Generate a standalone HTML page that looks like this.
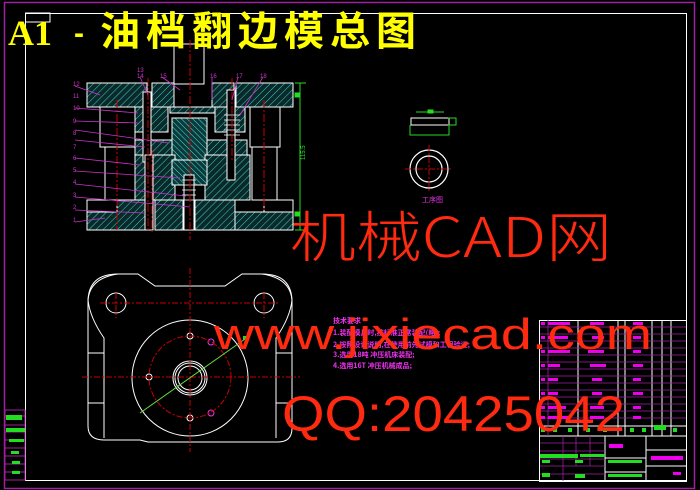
<!DOCTYPE html>
<html><head><meta charset="utf-8"><style>
html,body{margin:0;padding:0;background:#000;}
svg{display:block}
</style></head><body>
<svg width="700" height="490" viewBox="0 0 700 490" xmlns="http://www.w3.org/2000/svg">
<defs>
<pattern id="h" width="5" height="5" patternUnits="userSpaceOnUse" patternTransform="rotate(45)">
<rect width="5" height="5" fill="#0a2a2a"/><line x1="0" y1="0" x2="0" y2="5" stroke="#4cc" stroke-width="1"/>
</pattern>
<pattern id="h2" width="4" height="4" patternUnits="userSpaceOnUse" patternTransform="rotate(-45)">
<rect width="4" height="4" fill="#0a3a3a"/><line x1="0" y1="0" x2="0" y2="4" stroke="#5dd" stroke-width="1"/>
</pattern>
</defs>
<rect width="700" height="490" fill="#000"/>
<rect x="4.5" y="2.5" width="690" height="486" fill="none" stroke="#a020a0" stroke-width="1.5"/>
<rect x="25.5" y="13.5" width="661" height="467" fill="none" stroke="#fff" stroke-width="1"/>
<path d="M25 13 H50 V22 H25" fill="none" stroke="#fff"/>
<g stroke="#a020a0" fill="none"><rect x="5" y="410" width="20" height="70"/>
<line x1="5" y1="416" x2="25" y2="416"/><line x1="5" y1="425" x2="25" y2="425"/><line x1="5" y1="432" x2="25" y2="432"/><line x1="5" y1="440" x2="25" y2="440"/><line x1="5" y1="448" x2="25" y2="448"/><line x1="5" y1="456" x2="25" y2="456"/><line x1="5" y1="464" x2="25" y2="464"/><line x1="5" y1="472" x2="25" y2="472"/></g>
<g fill="#2d2"><rect x="6" y="415" width="16" height="5"/><rect x="6" y="428" width="19" height="4"/><rect x="9" y="439" width="15" height="3"/><rect x="11" y="451" width="8" height="3"/><rect x="12" y="461" width="8" height="3"/><rect x="12" y="471" width="8" height="3"/></g>

<!-- punch shank -->
<rect x="174" y="44" width="30" height="40" fill="none" stroke="#fff"/>
<!-- Title -->
<text x="8" y="45" font-family="Liberation Serif, serif" font-size="36" font-weight="bold" fill="#ff0">A1</text>
<text x="74" y="43" font-family="Liberation Sans, sans-serif" font-size="30" font-weight="bold" fill="#ff0">-</text>
<text x="100" y="45" font-family="'Noto Sans CJK SC', sans-serif" font-size="40" font-weight="bold" fill="#ff0" letter-spacing="6">油档翻边模总图</text>

<!-- section view -->
<g stroke="#fff" stroke-width="1">
<rect x="87" y="83" width="60" height="24" fill="url(#h)"/>
<rect x="152" y="83" width="22" height="24" fill="url(#h)"/>
<rect x="212" y="83" width="22" height="24" fill="url(#h)"/>
<rect x="236" y="83" width="57" height="24" fill="url(#h)"/>
<rect x="170" y="107" width="48" height="6" fill="url(#h)"/>
<rect x="135" y="107" width="33" height="25" fill="url(#h)"/>
<rect x="215" y="107" width="30" height="25" fill="url(#h)"/>
<rect x="172" y="118" width="35" height="42" fill="url(#h2)"/>
<rect x="135" y="140" width="37" height="15" fill="url(#h)"/>
<rect x="207" y="140" width="40" height="15" fill="url(#h)"/>
<rect x="135" y="155" width="40" height="45" fill="url(#h)"/>
<rect x="205" y="155" width="45" height="45" fill="url(#h)"/>
<rect x="172" y="160" width="35" height="25" fill="url(#h2)"/>
<rect x="87" y="200" width="58" height="30" fill="url(#h)"/>
<rect x="155" y="200" width="28" height="30" fill="url(#h)"/>
<rect x="195" y="200" width="40" height="30" fill="url(#h)"/>
<rect x="235" y="212" width="58" height="18" fill="url(#h)"/>
<rect x="100" y="107" width="35" height="40" fill="none"/>
<rect x="105" y="147" width="30" height="53" fill="none"/>
<rect x="250" y="107" width="30" height="40" fill="none"/>
<rect x="252" y="147" width="25" height="53" fill="none"/>
<rect x="87" y="200" width="30" height="12" fill="#000"/>
<rect x="264" y="200" width="29" height="12" fill="#000"/>
<rect x="143" y="92" width="8" height="70" fill="#000"/>
<rect x="145" y="155" width="8" height="75" fill="#000"/>
<rect x="227" y="90" width="8" height="90" fill="#000"/>
<rect x="184" y="175" width="10" height="55" fill="#000"/>
</g>
<g stroke="#fff" stroke-width="0.8" fill="none">
<path d="M224 115 h16 M224 120 h16 M224 125 h16 M224 130 h16 M224 135 h16"/>
<path d="M182 180 h14 M182 185 h14 M182 190 h14 M182 195 h14 M182 200 h14"/>
</g>
<g stroke="#c00" stroke-width="1" stroke-dasharray="8 2 2 2">
<line x1="190" y1="40" x2="190" y2="240"/><line x1="117" y1="100" x2="117" y2="230"/><line x1="264" y1="100" x2="264" y2="210"/><line x1="148" y1="78" x2="148" y2="232"/><line x1="232" y1="78" x2="232" y2="160"/><line x1="152" y1="150" x2="152" y2="232"/>
</g>
<g stroke="#2d2" fill="none"><line x1="300" y1="83" x2="300" y2="230"/><line x1="295" y1="83" x2="306" y2="83"/><line x1="295" y1="230" x2="306" y2="230"/><rect x="295" y="93" width="4" height="4" fill="#2d2"/><rect x="295" y="212" width="4" height="4" fill="#2d2"/></g>
<text x="305" y="160" font-family="Liberation Sans" font-size="6" fill="#2d2" transform="rotate(-90 305 160)">115.5</text>
<g stroke="#c3c" stroke-width="0.8" fill="none">
<path d="M75 86 L100 95 M75 108 L138 113 M75 121 L138 123 M75 130 L168 143 M75 140 L145 147 M75 158 L140 165 M75 171 L180 178 M75 184 L186 196 M75 197 L190 207 M75 210 L145 213 M75 222 L105 218"/>
<path d="M140 77 L148 95 M162 77 L180 90 M212 77 L212 100 M238 77 L232 100 M263 77 L240 115"/>
</g>
<g font-family="Liberation Sans" font-size="6" fill="#c3c">
<text x="73" y="86">12</text><text x="73" y="98">11</text><text x="73" y="110">10</text><text x="73" y="123">9</text><text x="73" y="135">8</text><text x="73" y="149">7</text><text x="73" y="160">6</text><text x="73" y="172">5</text><text x="73" y="184">4</text><text x="73" y="197">3</text><text x="73" y="209">2</text><text x="73" y="222">1</text>
<text x="137" y="72">13</text><text x="137" y="78">14</text><text x="160" y="78">15</text><text x="210" y="78">16</text><text x="236" y="78">17</text><text x="260" y="78">18</text>
</g>

<!-- workpiece -->
<g stroke="#fff" fill="none"><rect x="411" y="118" width="38" height="7"/></g>
<g stroke="#2d2" fill="none"><path d="M416 112 H444 M410 125 V135 H449 V125 M448 118 H456 V125 H448"/><rect x="428" y="110" width="5" height="3" fill="#2d2"/></g>
<g stroke="#fff" fill="none" stroke-width="1.2"><circle cx="429" cy="169" r="19"/><circle cx="429" cy="169" r="13"/></g>
<g stroke="#c00" stroke-dasharray="6 2 2 2"><line x1="405" y1="169" x2="453" y2="169"/><line x1="429" y1="145" x2="429" y2="193"/></g>
<text x="422" y="202" font-family="'Noto Sans CJK SC',sans-serif" font-size="7" fill="#e3e">工序图</text>

<!-- plan view -->
<g stroke="#fff" fill="none" stroke-width="1">
<path d="M118 274 H138 L155 286 H225 L242 274 H262 Q292 274 292 302 V428 Q292 442 278 442 H148 L140 440 H104 Q88 440 88 426 V302 Q88 274 118 274 Z"/>
<path d="M262 274 Q290 278 292 300 Q290 318 276 338 V438"/>
<path d="M118 274 Q90 278 88 300 Q90 318 104 338 V438"/>
<rect x="88" y="353" width="16" height="50"/><rect x="276" y="353" width="16" height="50"/>
<circle cx="190" cy="378" r="58"/>
<circle cx="190" cy="378" r="17"/><circle cx="190" cy="378" r="15"/><circle cx="190" cy="378" r="12"/>
<circle cx="116" cy="303" r="10"/><circle cx="264" cy="303" r="10"/>
<circle cx="190" cy="336" r="3"/><circle cx="190" cy="418" r="3"/><circle cx="149" cy="377" r="3"/>
</g>
<g stroke="#e3e" fill="none"><circle cx="211" cy="342" r="3"/><circle cx="211" cy="413" r="3"/></g>
<g stroke="#c00" stroke-dasharray="6 2 2 2" fill="none">
<line x1="82" y1="377" x2="300" y2="377"/><line x1="190" y1="268" x2="190" y2="452"/>
<line x1="100" y1="303" x2="280" y2="303"/><line x1="116" y1="293" x2="116" y2="318"/><line x1="264" y1="293" x2="264" y2="318"/>
<circle cx="190" cy="377" r="41"/>
</g>
<line x1="140" y1="413" x2="245" y2="339" stroke="#6d4"/>
<rect x="243" y="336" width="4" height="4" fill="#2d2"/>

<g font-family="'Noto Sans CJK SC',sans-serif" font-size="7" fill="#e3e" font-weight="bold">
<text x="333" y="323">技术要求</text>
<text x="333" y="335">1.装配模具时,按标准正常装配(略);</text>
<text x="333" y="347">2.按照设计说明,在使用前先试模和工程验证;</text>
<text x="333" y="357">3.选用18吨 冲压机床装配;</text>
<text x="333" y="368">4.选用16T 冲压机械成品;</text>
</g>

<g stroke="#fff" fill="none" stroke-width="1">
<rect x="539.5" y="320.5" width="147" height="161"/>
<line x1="539" y1="436" x2="687" y2="436"/>
<line x1="578" y1="320" x2="578" y2="436"/><line x1="618" y1="320" x2="618" y2="436"/><line x1="625" y1="320" x2="625" y2="436"/>
<line x1="652" y1="320" x2="652" y2="436"/><line x1="662" y1="320" x2="662" y2="436"/><line x1="671" y1="320" x2="671" y2="436"/>
<line x1="605" y1="436" x2="605" y2="481"/><line x1="646" y1="436" x2="646" y2="481"/>
<line x1="646" y1="450" x2="687" y2="450"/><line x1="646" y1="466" x2="687" y2="466"/>
<line x1="605" y1="458" x2="646" y2="458"/><line x1="605" y1="472" x2="646" y2="472"/>
<line x1="539" y1="426" x2="687" y2="426"/>
</g>
<g stroke="#a020a0" stroke-width="0.8">
<path d="M540 327H686M540 334H686M540 341H686M540 348H686M540 355H686M540 362H686M540 369H686M540 376H686M540 383H686M540 390H686M540 397H686M540 404H686M540 411H686M540 418H686"/>
<path d="M540 443H605M540 451H605M540 459H605M540 466H605M540 474H605M548 320V436M563 436V481M576 436V466M590 436V466"/>
</g>
<g fill="#e0e">
<rect x="541" y="322" width="4" height="3"/><rect x="548" y="322" width="22" height="3"/><rect x="590" y="322" width="14" height="3"/><rect x="633" y="322" width="10" height="3"/>
<rect x="541" y="336" width="4" height="3"/><rect x="548" y="336" width="20" height="3"/><rect x="592" y="336" width="12" height="3"/><rect x="633" y="336" width="8" height="3"/>
<rect x="541" y="350" width="4" height="3"/><rect x="548" y="350" width="22" height="3"/><rect x="588" y="350" width="16" height="3"/><rect x="633" y="350" width="8" height="3"/>
<rect x="541" y="364" width="4" height="3"/><rect x="548" y="364" width="12" height="3"/><rect x="590" y="364" width="16" height="3"/><rect x="633" y="364" width="10" height="3"/>
<rect x="541" y="378" width="4" height="3"/><rect x="548" y="378" width="10" height="3"/><rect x="592" y="378" width="10" height="3"/><rect x="633" y="378" width="8" height="3"/>
<rect x="541" y="392" width="4" height="3"/><rect x="548" y="392" width="10" height="3"/><rect x="592" y="392" width="10" height="3"/><rect x="633" y="392" width="10" height="3"/>
<rect x="541" y="406" width="4" height="3"/><rect x="548" y="406" width="18" height="3"/><rect x="590" y="406" width="14" height="3"/><rect x="633" y="406" width="8" height="3"/>
<rect x="541" y="416" width="4" height="3"/><rect x="548" y="416" width="22" height="3"/><rect x="590" y="416" width="14" height="3"/><rect x="633" y="416" width="8" height="3"/>
<rect x="609" y="444" width="14" height="4"/><rect x="651" y="456" width="32" height="4"/><rect x="673" y="472" width="8" height="3"/>
</g>
<g fill="#2d2">
<rect x="541" y="428" width="4" height="4"/><rect x="553" y="428" width="4" height="4"/><rect x="568" y="428" width="4" height="4"/><rect x="586" y="428" width="4" height="4"/><rect x="603" y="428" width="4" height="4"/><rect x="630" y="428" width="4" height="4"/><rect x="642" y="428" width="4" height="4"/><rect x="654" y="425" width="12" height="5"/><rect x="673" y="428" width="4" height="4"/>
<rect x="540" y="454" width="38" height="4"/><rect x="580" y="454" width="25" height="3"/><rect x="542" y="460" width="8" height="3"/><rect x="575" y="460" width="8" height="3"/>
<rect x="608" y="460" width="34" height="3"/><rect x="542" y="473" width="8" height="4"/><rect x="575" y="474" width="10" height="4"/><rect x="608" y="474" width="34" height="3"/>
</g>

<!-- watermark -->
<text x="290" y="257" font-family="'WenQuanYi Zen Hei','Noto Sans CJK SC',sans-serif" font-size="55" textLength="322" lengthAdjust="spacingAndGlyphs" font-weight="300" fill="#ff2a10">机械CAD网</text>
<text x="214" y="349" font-family="Liberation Sans, sans-serif" font-size="44" fill="#ff2a10" textLength="438" lengthAdjust="spacingAndGlyphs">www.jixiecad.com</text>
<text x="282" y="431" font-family="Liberation Sans, sans-serif" font-size="50" fill="#ff2a10" textLength="343" lengthAdjust="spacingAndGlyphs">QQ:20425042</text>
</svg>
</body></html>
